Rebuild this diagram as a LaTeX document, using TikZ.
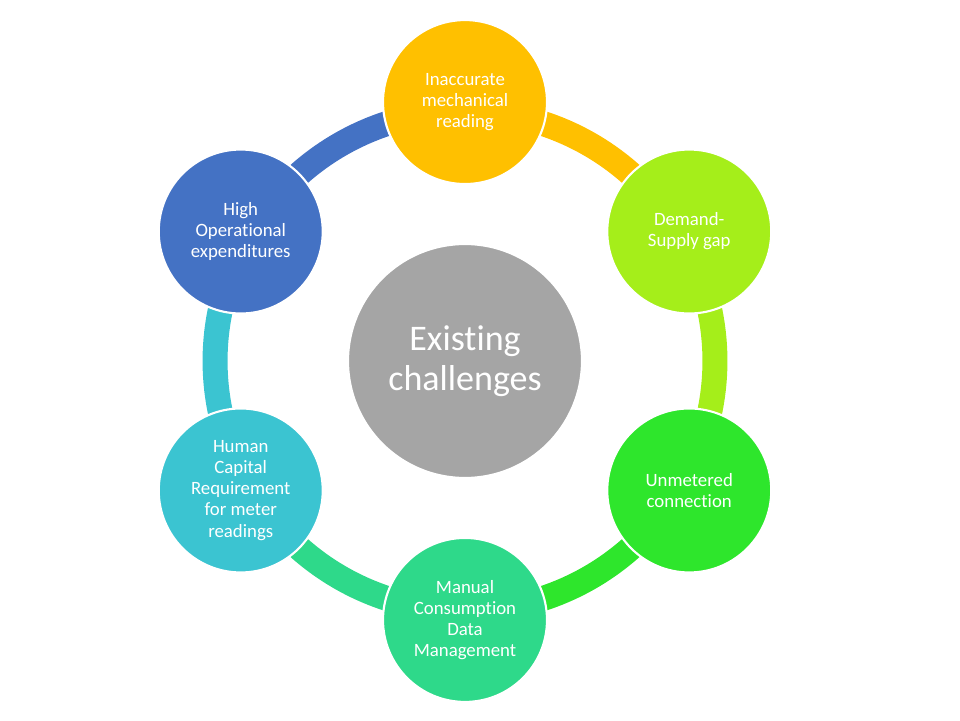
\documentclass[tikz,border=0pt]{standalone}
\usepackage{fontspec}
\setmainfont{Carlito}[Ligatures=NoCommon]
\usetikzlibrary{backgrounds}
\definecolor{hubgray}{HTML}{A5A5A5}
\definecolor{cyorange}{HTML}{FFC000}
\definecolor{cylime}{HTML}{A5EE1A}
\definecolor{cygreen}{HTML}{2EE62C}
\definecolor{cyteal}{HTML}{2ED98A}
\definecolor{cycyan}{HTML}{3BC4D1}
\definecolor{cyblue}{HTML}{4472C4}
\begin{document}
\begin{tikzpicture}[x=0.02cm, y=0.02cm,
    bubble/.style={circle, draw=white, line width=1.2pt, minimum size=3.28cm,
      inner sep=0pt, align=center, text=white,
      font=\fontsize{10.7}{12}\selectfont},
    band/.style={line width=0.5cm}]
        \useasboundingbox (0,0) rectangle (960,720);

        % Centre circle
        \node[bubble, fill=hubgray, minimum size=4.68cm,
          font=\fontsize{20.5}{22.7}\selectfont] (hub) at (465,359) {Existing\\challenges};

        % Outer circles
        \node[bubble, fill=cyorange] (meter) at ([shift={(90:5.18cm)}]hub) {Inaccurate\\mechanical\\reading};
        \node[bubble, fill=cylime] (gap) at ([shift={(30:5.18cm)}]hub) {Demand-\\Supply gap};
        \node[bubble, fill=cygreen] (unmet) at ([shift={(-30:5.18cm)}]hub) {Unmetered\\connection};
        \node[bubble, fill=cyteal] (manual) at ([shift={(-90:5.18cm)}]hub) {Manual\\Consumption\\Data\\Management};
        \node[bubble, fill=cycyan] (human) at ([shift={(-150:5.18cm)}]hub) {Human\\Capital\\Requirement\\for meter\\readings};
        \node[bubble, fill=cyblue] (opex) at ([shift={(150:5.18cm)}]hub) {High\\Operational\\expenditures};

        % Ring segments behind the circles
        \begin{scope}[on background layer]
          \draw[band, cyorange] ([shift={(90:5cm)}]hub.center) arc[start angle=90, end angle=30, radius=5cm];
          \draw[band, cylime] ([shift={(30:5cm)}]hub.center) arc[start angle=30, end angle=-30, radius=5cm];
          \draw[band, cygreen] ([shift={(-30:5cm)}]hub.center) arc[start angle=-30, end angle=-90, radius=5cm];
          \draw[band, cyteal] ([shift={(-90:5cm)}]hub.center) arc[start angle=-90, end angle=-150, radius=5cm];
          \draw[band, cycyan] ([shift={(-150:5cm)}]hub.center) arc[start angle=-150, end angle=-210, radius=5cm];
          \draw[band, cyblue] ([shift={(150:5cm)}]hub.center) arc[start angle=150, end angle=90, radius=5cm];
        \end{scope}
    \end{tikzpicture}
\end{document}
